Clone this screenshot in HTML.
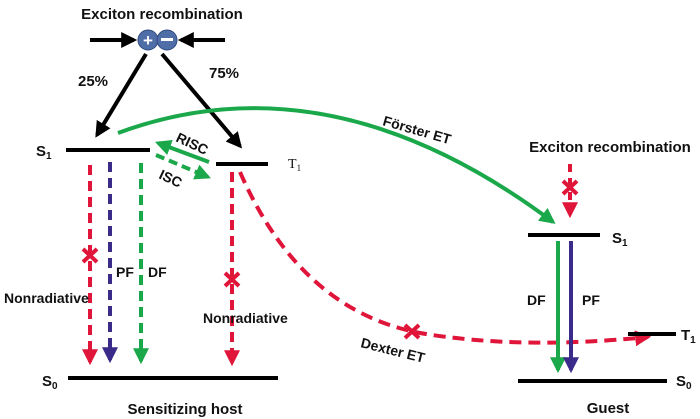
<!DOCTYPE html>
<html><head><meta charset="utf-8"><style>
html,body{margin:0;padding:0;background:#fff;width:700px;height:419px;overflow:hidden}
text{font-family:"Liberation Sans","DejaVu Sans",sans-serif;font-weight:bold;fill:#111}
</style></head><body>
<svg width="700" height="419" viewBox="0 0 700 419" xmlns="http://www.w3.org/2000/svg">
<defs>
<marker id="ak" viewBox="0 0 10 10" refX="8" refY="5" markerWidth="4" markerHeight="4" orient="auto"><path d="M0,0L10,5L0,10z" fill="#000"/></marker>
<marker id="ag" viewBox="0 0 10 10" refX="8" refY="5" markerWidth="4" markerHeight="4" orient="auto"><path d="M0,0L10,5L0,10z" fill="#1aa84a"/></marker>
<marker id="ar" viewBox="0 0 10 10" refX="8" refY="5" markerWidth="4" markerHeight="4" orient="auto"><path d="M0,0L10,5L0,10z" fill="#e0153a"/></marker>
<marker id="ap" viewBox="0 0 10 10" refX="8" refY="5" markerWidth="4" markerHeight="4" orient="auto"><path d="M0,0L10,5L0,10z" fill="#3a2a8a"/></marker>
</defs>
<text x="162" y="19" font-size="15" text-anchor="middle">Exciton recombination</text>
<line x1="90" y1="40" x2="134" y2="40" stroke="#000" stroke-width="4" marker-end="url(#ak)"/>
<line x1="225" y1="40" x2="181" y2="40" stroke="#000" stroke-width="4" marker-end="url(#ak)"/>
<circle cx="148" cy="40" r="10" fill="#4f6ea8" stroke="#2e4a80"/>
<circle cx="167" cy="40" r="10" fill="#4f6ea8" stroke="#2e4a80"/>
<text x="148" y="46" font-size="17" style="fill:#fff" text-anchor="middle">+</text>
<rect x="161" y="38" width="12" height="3" fill="#fff"/>
<line x1="146" y1="54" x2="97" y2="135" stroke="#000" stroke-width="4" marker-end="url(#ak)"/>
<line x1="162" y1="54" x2="240" y2="146" stroke="#000" stroke-width="4" marker-end="url(#ak)"/>
<text x="78" y="86" font-size="15">25%</text>
<text x="209" y="78" font-size="15">75%</text>
<text x="36" y="156" font-size="15">S<tspan font-size="10" dy="3">1</tspan></text>
<line x1="66" y1="150" x2="150" y2="150" stroke="#000" stroke-width="4"/>
<line x1="216" y1="164" x2="268" y2="164" stroke="#000" stroke-width="4"/>
<text x="288" y="168" font-size="14" style="font-family:'Liberation Serif',serif;font-weight:normal">T<tspan font-size="9" dy="3">1</tspan></text>
<line x1="209" y1="162" x2="158" y2="143" stroke="#1aa84a" stroke-width="4" marker-end="url(#ag)"/>
<line x1="156" y1="155" x2="208" y2="177" stroke="#1aa84a" stroke-width="4" stroke-dasharray="9,5" marker-end="url(#ag)"/>
<text x="175" y="141" font-size="14" transform="rotate(25 175 141)">RISC</text>
<text x="158" y="178" font-size="14" transform="rotate(25 158 178)">ISC</text>
<path d="M118,133 Q330,55 553,222" fill="none" stroke="#1aa84a" stroke-width="4" marker-end="url(#ag)"/>
<text x="382" y="125" font-size="14" transform="rotate(16 382 125)">Förster ET</text>
<line x1="90" y1="165" x2="90" y2="362" stroke="#e0153a" stroke-width="4" stroke-dasharray="10,6" marker-end="url(#ar)"/>
<line x1="110" y1="162" x2="110" y2="360" stroke="#3a2a8a" stroke-width="4" stroke-dasharray="10,6" marker-end="url(#ap)"/>
<line x1="141" y1="163" x2="141" y2="361" stroke="#1aa84a" stroke-width="4" stroke-dasharray="10,6" marker-end="url(#ag)"/>
<line x1="232" y1="172" x2="232" y2="363" stroke="#e0153a" stroke-width="4" stroke-dasharray="10,6" marker-end="url(#ar)"/>
<path d="M240,172 Q300,310 420,333 Q520,350 648,337" fill="none" stroke="#e0153a" stroke-width="4" stroke-dasharray="12,7" marker-end="url(#ar)"/>
<g stroke="#e0153a" stroke-width="4">
<line x1="83" y1="249" x2="97" y2="262"/><line x1="97" y1="249" x2="83" y2="262"/>
<line x1="225" y1="273" x2="239" y2="286"/><line x1="239" y1="273" x2="225" y2="286"/>
<line x1="405" y1="325" x2="419" y2="338"/><line x1="419" y1="325" x2="405" y2="338"/>
<line x1="563" y1="181" x2="577" y2="194"/><line x1="577" y1="181" x2="563" y2="194"/>
</g>
<line x1="570" y1="164" x2="570" y2="215" stroke="#e0153a" stroke-width="4" stroke-dasharray="8,6" marker-end="url(#ar)"/>
<text x="116" y="277" font-size="14">PF</text>
<text x="148" y="277" font-size="14">DF</text>
<text x="4" y="303" font-size="14">Nonradiative</text>
<text x="203" y="323" font-size="14">Nonradiative</text>
<text x="360" y="347" font-size="14" transform="rotate(14 360 347)">Dexter ET</text>
<text x="42" y="386" font-size="15">S<tspan font-size="10" dy="3">0</tspan></text>
<line x1="68" y1="378" x2="278" y2="378" stroke="#000" stroke-width="4"/>
<text x="185" y="414" font-size="15" text-anchor="middle">Sensitizing host</text>
<text x="610" y="152" font-size="15" text-anchor="middle">Exciton recombination</text>
<line x1="528" y1="235" x2="600" y2="235" stroke="#000" stroke-width="4"/>
<text x="612" y="243" font-size="15">S<tspan font-size="10" dy="3">1</tspan></text>
<line x1="558" y1="241" x2="558" y2="370" stroke="#1aa84a" stroke-width="4" marker-end="url(#ag)"/>
<line x1="571" y1="241" x2="571" y2="370" stroke="#3a2a8a" stroke-width="4" marker-end="url(#ap)"/>
<text x="527" y="305" font-size="14">DF</text>
<text x="582" y="305" font-size="14">PF</text>
<line x1="628" y1="334" x2="676" y2="334" stroke="#000" stroke-width="4"/>
<text x="681" y="340" font-size="15">T<tspan font-size="10" dy="3">1</tspan></text>
<line x1="518" y1="381" x2="667" y2="381" stroke="#000" stroke-width="4"/>
<text x="676" y="386" font-size="15">S<tspan font-size="10" dy="3">0</tspan></text>
<text x="608" y="413" font-size="15" text-anchor="middle">Guest</text>
</svg>
</body></html>
